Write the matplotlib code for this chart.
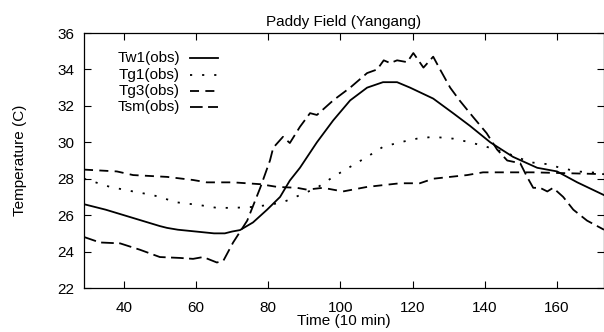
import matplotlib
matplotlib.use('Agg')
import matplotlib.pyplot as plt

plt.rcParams['font.family'] = ['Liberation Sans', 'DejaVu Sans']
plt.rcParams['font.size'] = 11

tw1_t = [29, 35, 40, 45, 50, 52, 55, 60, 65, 68, 70, 72.2, 75.8, 79.7, 83.3, 86, 88.8,
         93.5, 98, 102.7, 107.4, 111.8, 115.7, 119.3, 125.7, 131.2, 135.9, 141.5,
         147.8, 154.5, 160, 165.6, 173]
tw1_v = [26.6, 26.3, 26.0, 25.7, 25.4, 25.3, 25.2, 25.1, 25.0, 25.0, 25.1, 25.18, 25.6,
         26.3, 27.0, 27.9, 28.6, 30.0, 31.2, 32.3, 33.0, 33.3, 33.3, 33.0, 32.4, 31.6,
         30.9, 30.0, 29.2, 28.6, 28.4, 27.8, 27.1]

tg1_t = [29, 36.2, 42.6, 48.1, 54.8, 61.1, 65.8, 70.3, 75.8, 79.7, 84, 88.8, 93.5, 98,
         102.7, 107.4, 111.8, 116.5, 121.2, 125.7, 131.2, 135.9, 140.5, 146.2, 152.6,
         157.3, 160.9, 165.6, 173]
tg1_v = [28.0, 27.55, 27.3, 27.1, 26.7, 26.55, 26.4, 26.4, 26.45, 26.55, 26.7, 27.1,
         27.5, 28.1, 28.65, 29.2, 29.75, 30.0, 30.2, 30.3, 30.2, 30.0, 29.75, 29.4,
         28.9, 28.8, 28.6, 28.4, 28.3]

tg3_t = [29, 38.1, 42.6, 52, 59.2, 63, 70.3, 77.8, 82.5, 88, 90.7, 95.2, 100.7, 107.4,
         116.5, 122, 125.7, 130.4, 135.1, 139.5, 153.4, 173]
tg3_v = [28.5, 28.4, 28.2, 28.1, 27.93, 27.8, 27.8, 27.7, 27.55, 27.5, 27.4, 27.5, 27.3,
         27.55, 27.75, 27.75, 28.0, 28.1, 28.2, 28.35, 28.35, 28.25]

tsm_t = [29, 33.4, 39, 44.5, 50, 55.6, 59.2, 62, 65.8, 67.6, 70.3, 74.2, 77.8, 80.5,
         81.4, 84.1, 86, 88.8, 91.6, 93.5, 98, 102.7, 107.4, 110.2, 112, 113.8, 115.7,
         118.5, 120.2, 123, 125.7, 127.6, 130.4, 133, 136.7, 140.5, 143.4, 146.2, 149.8,
         151.7, 153.4, 155.3, 157.3, 158.9, 161.7, 164.5, 168.3, 173]
tsm_v = [24.8, 24.5, 24.45, 24.1, 23.7, 23.65, 23.6, 23.7, 23.4, 23.5, 24.5, 25.7, 27.5,
         29.0, 29.7, 30.3, 29.96, 30.85, 31.6, 31.5, 32.3, 33.0, 33.8, 34.0, 34.5, 34.35,
         34.5, 34.4, 34.9, 34.1, 34.7, 34.0, 33.0, 32.3, 31.4, 30.5, 29.6, 29.0, 28.85,
         28.1, 27.5, 27.5, 27.3, 27.5, 27.0, 26.3, 25.7, 25.2]

labels = ['Tw1(obs)', 'Tg1(obs)', 'Tg3(obs)', 'Tsm(obs)']
x_ticks = [40, 60, 80, 100, 120, 140, 160]
y_ticks = [22, 24, 26, 28, 30, 32, 34, 36]

fig = plt.figure(figsize=(6.04, 3.32), dpi=100)
ax = fig.add_axes([84 / 604, 44 / 332, 520 / 604, 255 / 332])

styles = [
    dict(linestyle='-'),
    dict(linestyle=(0, (1.2, 5.5))),
    dict(linestyle=(0, (5, 3.5))),
    dict(linestyle=(0, (7, 3))),
]
series = [(tw1_t, tw1_v), (tg1_t, tg1_v), (tg3_t, tg3_v), (tsm_t, tsm_v)]
for (t, v), st in zip(series, styles):
    ax.plot(t, v, color='black', lw=1.3, **st)

ax.set_xlim(29, 173)
ax.set_ylim(22, 36)
ax.set_xticks(x_ticks)
ax.set_yticks(y_ticks)
ax.tick_params(axis='x', direction='in', length=5, width=0.8, top=True, pad=9)
ax.tick_params(axis='y', direction='in', length=5, width=0.8, right=True, pad=7)
for s in ax.spines.values():
    s.set_linewidth(0.9)

ax.set_title('Paddy Field (Yangang)', fontsize=11, pad=5)
ax.set_xlabel('Time (10 min)', fontsize=11, labelpad=0)
ax.set_ylabel('Temperature (C)', fontsize=11, labelpad=22)

# gnuplot-like key: right-aligned text, sample line after it
key_y = [58, 75, 91, 107]
for lab, st, py in zip(labels, styles, key_y):
    yy = 1 - (py - 33) / 255
    ax.text((180 - 84) / 520, yy, lab, transform=ax.transAxes, ha='right', va='center',
            fontsize=11)
    ax.plot([(190 - 84) / 520, (218 - 84) / 520], [yy, yy], transform=ax.transAxes,
            color='black', lw=1.3, **st)

fig.savefig('out.png', dpi=100)
